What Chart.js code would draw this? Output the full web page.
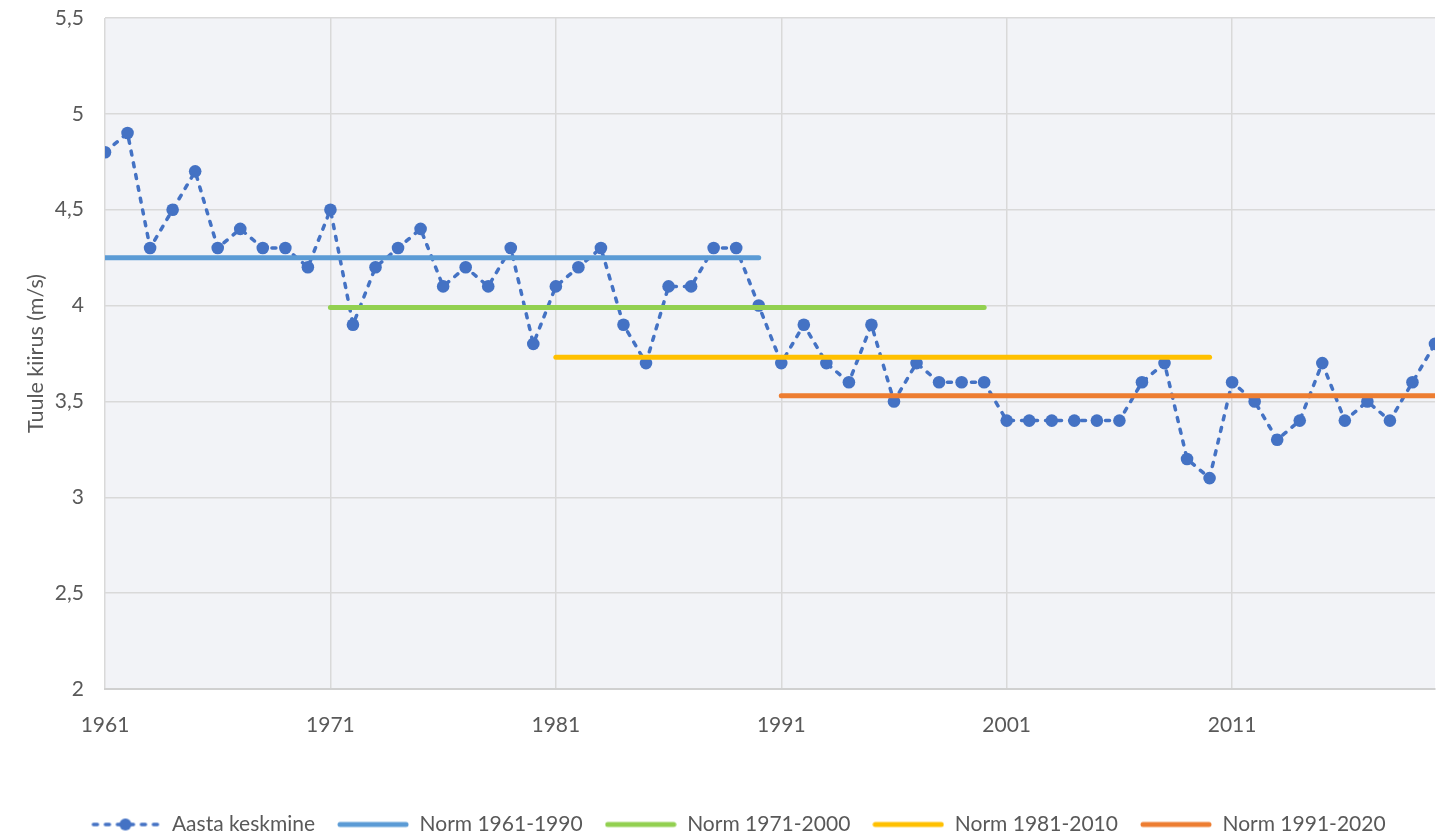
<!DOCTYPE html>
<html>
<head>
<meta charset="utf-8">
<script src="https://cdn.jsdelivr.net/npm/chart.js@4.4.1/dist/chart.umd.min.js"></script>
<style>
  html, body { margin: 0; padding: 0; background: #ffffff; }
  #wrap { width: 1444px; height: 835px; position: relative; }
</style>
</head>
<body>
<div id="wrap"><canvas id="c" width="1444" height="835"></canvas></div>
<script>
// ---- Data ----
const years = [1961,1962,1963,1964,1965,1966,1967,1968,1969,1970,
               1971,1972,1973,1974,1975,1976,1977,1978,1979,1980,
               1981,1982,1983,1984,1985,1986,1987,1988,1989,1990,
               1991,1992,1993,1994,1995,1996,1997,1998,1999,2000,
               2001,2002,2003,2004,2005,2006,2007,2008,2009,2010,
               2011,2012,2013,2014,2015,2016,2017,2018,2019,2020];
const yearlyMean = [4.8,4.9,4.3,4.5,4.7,4.3,4.4,4.3,4.3,4.2,
                    4.5,3.9,4.2,4.3,4.4,4.1,4.2,4.1,4.3,3.8,
                    4.1,4.2,4.3,3.9,3.7,4.1,4.1,4.3,4.3,4.0,
                    3.7,3.9,3.7,3.6,3.9,3.5,3.7,3.6,3.6,3.6,
                    3.4,3.4,3.4,3.4,3.4,3.4,3.6,3.7,3.2,3.1,
                    3.6,3.5,3.3,3.4,3.7,3.4,3.5,3.4,3.6,3.8];
const normLabels = ['Norm 1961-1990','Norm 1971-2000','Norm 1981-2010','Norm 1991-2020'];
const normStart = [1961, 1971, 1981, 1991];
const normEnd = [1990, 2000, 2010, 2020];
const normValues = [4.25, 3.99, 3.73, 3.53];
const seriesLabel = 'Aasta keskmine';
const xTickValues = [1961, 1971, 1981, 1991, 2001, 2011];
const yAxisTitle = 'Tuule kiirus (m/s)';

// ---- Styles ----
const meanColor = '#4472C4';
const normColors = ['#5B9BD5', '#92D050', '#FFC000', '#ED7D31'];
const textColor = '#595959';
const gridColor = '#D9D9D9';
const FONT = 'Lato';

// legend icons
function makeIcon(kind, color) {
  const c = document.createElement('canvas');
  c.width = 72; c.height = 14;
  const ctx = c.getContext('2d');
  ctx.strokeStyle = color; ctx.fillStyle = color;
  if (kind === 'dash') {
    ctx.lineWidth = 3.5; ctx.lineCap = 'round';
    ctx.setLineDash([4, 8]);
    ctx.beginPath(); ctx.moveTo(4, 7); ctx.lineTo(70, 7); ctx.stroke();
    ctx.beginPath(); ctx.arc(36, 7, 6, 0, Math.PI * 2); ctx.fill();
  } else {
    ctx.lineWidth = 5; ctx.lineCap = 'round';
    ctx.beginPath(); ctx.moveTo(3, 7); ctx.lineTo(69, 7); ctx.stroke();
  }
  return c;
}
const icons = [makeIcon('dash', meanColor)].concat(normColors.map(col => makeIcon('line', col)));

const datasets = [{
  label: seriesLabel,
  data: years.map((y, i) => ({ x: y, y: yearlyMean[i] })),
  borderColor: meanColor,
  backgroundColor: meanColor,
  borderWidth: 3.5,
  borderDash: [4, 8],
  borderCapStyle: 'round',
  pointRadius: 6.3,
  pointHoverRadius: 6.3,
  pointBackgroundColor: meanColor,
  pointBorderWidth: 0,
  tension: 0,
  order: 1
}].concat(normLabels.map((lab, k) => ({
  label: lab,
  data: [{ x: normStart[k], y: normValues[k] }, { x: normEnd[k], y: normValues[k] }],
  borderColor: normColors[k],
  backgroundColor: normColors[k],
  borderWidth: 5,
  borderCapStyle: 'round',
  pointRadius: 0,
  pointHoverRadius: 0,
  order: 0
})));

const plotBg = {
  id: 'plotBg',
  beforeDraw(chart) {
    const a = chart.chartArea, ctx = chart.ctx;
    ctx.save();
    ctx.fillStyle = '#F2F3F7';
    ctx.fillRect(a.left, a.top, a.right - a.left, a.bottom - a.top);
    ctx.restore();
  }
};
const legendShift = {
  id: 'legendShift',
  afterLayout(chart) {
    const lg = chart.legend;
    if (!lg) return;
    lg.top += 10; lg.bottom += 10;
    lg.left += 20; lg.right += 20;
  }
};

new Chart(document.getElementById('c'), {
  type: 'line',
  data: { datasets },
  plugins: [plotBg, legendShift],
  options: {
    responsive: false,
    animation: false,
    layout: { padding: { top: 18, right: 9, left: 0, bottom: 0 } },
    plugins: {
      tooltip: { enabled: false },
      legend: {
        position: 'bottom',
        align: 'center',
        labels: {
          usePointStyle: true,
          pointStyleWidth: 72,
          boxHeight: 14,
          padding: 22,
          color: textColor,
          font: { family: FONT, size: 21 },
          sort: (a, b) => a.datasetIndex - b.datasetIndex,
          generateLabels(chart) {
            const items = Chart.defaults.plugins.legend.labels.generateLabels(chart);
            items.forEach(it => { it.pointStyle = icons[it.datasetIndex]; });
            return items;
          }
        }
      }
    },
    scales: {
      x: {
        type: 'linear',
        min: 1961,
        max: 2020,
        afterBuildTicks(scale) { scale.ticks = xTickValues.map(v => ({ value: v })); },
        afterFit(scale) { scale.height = 93; },
        ticks: {
          autoSkip: false,
          maxRotation: 0,
          padding: 24,
          color: textColor,
          font: { family: FONT, size: 21 },
          callback: v => String(v)
        },
        grid: { color: gridColor, lineWidth: 1.5, drawTicks: false, tickLength: 0 },
        border: { display: true, color: '#D0D0D0', width: 2 }
      },
      y: {
        min: 2,
        max: 5.5,
        afterFit(scale) { scale.width = 105; scale.paddingTop = 0; scale.paddingBottom = 0; },
        ticks: {
          stepSize: 0.5,
          padding: 21,
          color: textColor,
          font: { family: FONT, size: 21 },
          callback: v => String(v).replace('.', ',')
        },
        grid: { color: gridColor, lineWidth: 1.5, drawTicks: false, tickLength: 0 },
        border: { display: false },
        title: {
          display: true,
          text: yAxisTitle,
          color: textColor,
          font: { family: FONT, size: 21.5 },
          padding: { top: 23, bottom: 0 }
        }
      }
    }
  }
});
</script>
</body>
</html>
